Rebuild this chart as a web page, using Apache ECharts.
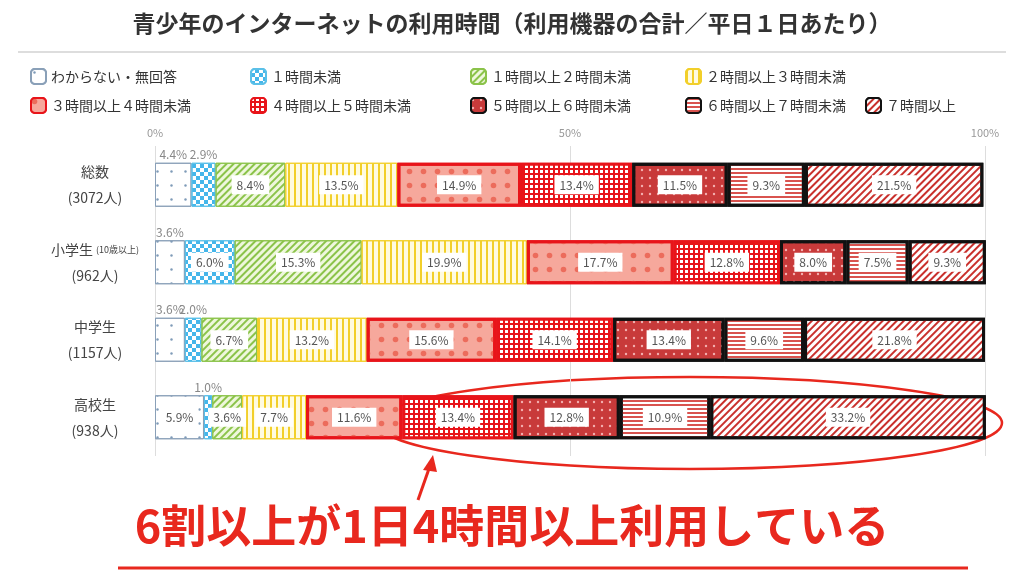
<!DOCTYPE html>
<html><head><meta charset="utf-8">
<script src="https://cdn.jsdelivr.net/npm/echarts@6/dist/echarts.min.js"></script>
<style>html,body{margin:0;background:#fff}#c{width:1024px;height:576px}</style>
</head><body><div id="c"></div>
<script>
// 区分
const categories = ['総数\n(3072人)', '小学生 {s|(10歳以上)}\n(962人)', '中学生\n(1157人)', '高校生\n(938人)']
const seriesNames = ['わからない・無回答', '１時間未満', '１時間以上２時間未満', '２時間以上３時間未満',
  '３時間以上４時間未満', '４時間以上５時間未満', '５時間以上６時間未満', '６時間以上７時間未満', '７時間以上']
// 各区分の割合(%)
const dataTotal = [4.4, 2.9, 8.4, 13.5, 14.9, 13.4, 11.5, 9.3, 21.5]
const dataElem = [3.6, 6.0, 15.3, 19.9, 17.7, 12.8, 8.0, 7.5, 9.3]
const dataJunior = [3.6, 2.0, 6.7, 13.2, 15.6, 14.1, 13.4, 9.6, 21.8]
const dataHigh = [5.9, 1.0, 3.6, 7.7, 11.6, 13.4, 12.8, 10.9, 33.2]
const xTicks = ['0%', '50%', '100%']

const rows = [dataTotal, dataElem, dataJunior, dataHigh]
const D = Math.PI / 4
// 模様
const styles = [
  { color: '#fff', borderColor: '#8aa0b8', borderWidth: 1, decal: { symbol: 'circle', symbolSize: 0.35, dashArrayX: 7, dashArrayY: 7, color: '#7f9bb8' } },
  { color: '#fff', borderColor: '#5bc0e8', borderWidth: 1, decal: { symbol: 'rect', symbolSize: 1, dashArrayX: [[4, 4], [0, 4, 4, 0]], dashArrayY: [4, 0], color: '#45b6ea' } },
  { color: '#eef7dc', borderColor: '#8bc34a', borderWidth: 1, decal: { symbol: 'rect', symbolSize: 1, dashArrayX: [1, 0], dashArrayY: [2, 3], rotation: -D, color: '#8bc34a' } },
  { color: '#fffbe0', borderColor: '#f2cf2a', borderWidth: 1, decal: { symbol: 'rect', symbolSize: 1, dashArrayX: [2, 4], dashArrayY: [1, 0], color: '#f2cf2a' } },
  { color: '#f6a89c', borderColor: '#e8141a', borderWidth: 3, decal: { symbol: 'circle', symbolSize: 0.8, dashArrayX: 7, dashArrayY: 7, color: '#ec6c5c' } },
  { color: '#e8141a', borderColor: '#e8141a', borderWidth: 3, decal: { symbol: 'rect', symbolSize: 1, dashArrayX: [3, 2], dashArrayY: [3, 2], color: '#fff' } },
  { color: '#c83a3a', borderColor: '#111', borderWidth: 3, decal: { symbol: 'circle', symbolSize: 0.6, dashArrayX: 4, dashArrayY: 4, color: '#f3b0b0' } },
  { color: '#fff', borderColor: '#111', borderWidth: 3, decal: { symbol: 'rect', symbolSize: 1, dashArrayX: [1, 0], dashArrayY: [2, 2], color: '#d9534f' } },
  { color: '#fff', borderColor: '#111', borderWidth: 3, decal: { symbol: 'rect', symbolSize: 1, dashArrayX: [1, 0], dashArrayY: [2, 3], rotation: -D, color: '#c9302c' } }
]

const fmt = p => p.value.toFixed(1) + '%'
const insideLabel = {
  show: true,
  position: 'inside',
  formatter: p => '{a|' + fmt(p) + '}',
  rich: { a: { backgroundColor: '#fff', padding: [4, 5, 3, 5], color: '#555', fontSize: 12 } }
}
const outsideLabel = { show: true, position: 'top', distance: 2, formatter: fmt, color: '#888', fontSize: 12 }

const series = seriesNames.map((name, i) => ({
  name: name,
  type: 'bar',
  stack: 'all',
  barWidth: 44,
  itemStyle: styles[i],
  emphasis: { disabled: true },
  data: rows.map(r => ({
    value: r[i],
    label: r[i] < 3.5 || (i === 0 && r[i] < 5) ? outsideLabel : insideLabel
  }))
}))

const font = '"Noto Sans CJK JP", sans-serif'
// 凡例の位置
const legendLeft = [25, 245, 465, 680, 25, 245, 465, 680, 860]
const legends = seriesNames.map((name, i) => ({
  left: legendLeft[i],
  top: i < 4 ? 63 : 92,
  itemWidth: 15,
  itemHeight: 15,
  data: [name],
  textStyle: { fontSize: 14, color: '#333', fontFamily: font }
}))
const option = {
  textStyle: { fontFamily: font },
  animation: false,
  title: {
    text: '青少年のインターネットの利用時間（利用機器の合計／平日１日あたり）',
    left: 'center',
    top: 7,
    textStyle: { fontSize: 23, fontWeight: 'bold', color: '#333', fontFamily: font }
  },
  legend: legends,
  grid: { left: 155, right: 39, top: 146, bottom: 120 },
  xAxis: {
    type: 'value',
    position: 'top',
    min: 0,
    max: 100,
    interval: 50,
    axisLabel: { color: '#999', fontSize: 11, formatter: v => xTicks[v / 50] },
    axisLine: { show: false },
    axisTick: { show: false },
    splitLine: { lineStyle: { color: '#ddd' } }
  },
  yAxis: {
    type: 'category',
    inverse: true,
    data: categories,
    axisLine: { show: false },
    axisTick: { show: false },
    axisLabel: { color: '#444', fontSize: 14, lineHeight: 26, align: 'center', margin: 60, rich: { s: { fontSize: 9, color: '#444' } } }
  },
  series: series,
  graphic: [
    { type: 'line', shape: { x1: 18, y1: 52, x2: 1006, y2: 52 }, style: { stroke: '#bbb', lineWidth: 1 } },
    { type: 'ellipse', shape: { cx: 690, cy: 423, rx: 312, ry: 46 }, style: { fill: 'none', stroke: '#e8281e', lineWidth: 2.5 } },
    { type: 'line', shape: { x1: 418, y1: 500, x2: 431, y2: 463 }, style: { stroke: '#e8281e', lineWidth: 3 } },
    { type: 'polygon', shape: { points: [[433, 455], [423, 470], [437, 472]] }, style: { fill: '#e8281e' } },
    { type: 'text', left: 'center', top: 503, style: { text: '6割以上が1日4時間以上利用している', fill: '#e8281e', font: 'bold 45px "Noto Sans CJK JP"' } },
    { type: 'line', shape: { x1: 118, y1: 568, x2: 968, y2: 568 }, style: { stroke: '#e8281e', lineWidth: 3 } }
  ]
}
const myChart = echarts.init(document.getElementById('c'))
myChart.setOption(option)
</script></body></html>
